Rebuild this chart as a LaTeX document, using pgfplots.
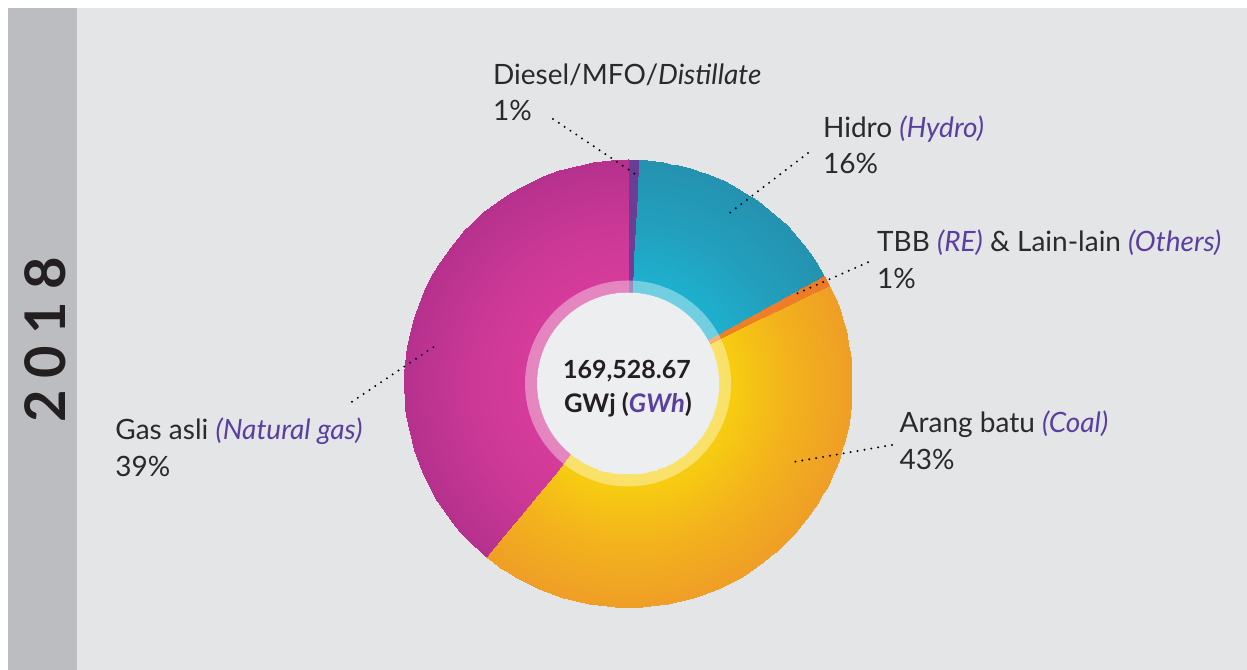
\documentclass[border=0pt]{standalone}
\usepackage{pgfplots}
\pgfplotsset{compat=1.18}
\usepackage{pgfplotstable}
\usepackage{fontspec}
\setmainfont{Lato}
\definecolor{panel}{HTML}{E4E5E7}
\definecolor{sidebar}{HTML}{BCBDC1}
\definecolor{txt}{HTML}{2B2A2B}
\definecolor{purp}{HTML}{5B3FA0}
\definecolor{dark}{HTML}{231F20}
\definecolor{centerc}{HTML}{ECEEF0}

% share of generation (%)
\pgfplotstableread{
source share
Diesel 0.8
Hydro 16.2
TBB 0.8
Coal 43.1
Gas 39.1
}\sharetable
\pgfplotstablegetelem{0}{share}\of\sharetable \let\sA\pgfplotsretval
\pgfplotstablegetelem{1}{share}\of\sharetable \let\sB\pgfplotsretval
\pgfplotstablegetelem{2}{share}\of\sharetable \let\sC\pgfplotsretval
\pgfplotstablegetelem{3}{share}\of\sharetable \let\sD\pgfplotsretval
\pgfplotstablegetelem{4}{share}\of\sharetable \let\sE\pgfplotsretval
\pgfmathsetmacro\aA{90}
\pgfmathsetmacro\aB{\aA-3.6*\sA}
\pgfmathsetmacro\aC{\aB-3.6*\sB}
\pgfmathsetmacro\aD{\aC-3.6*\sC}
\pgfmathsetmacro\aE{\aD-3.6*\sD}
\pgfmathsetmacro\aF{\aE-3.6*\sE}

\begin{document}
\begin{tikzpicture}
\begin{axis}[
  width=623.5pt, height=335pt, scale only axis,
  xmin=0, xmax=1247, ymin=0, ymax=670,
  hide axis, view={0}{90}, clip=false,
  point meta min=0, point meta max=1,
  colormap={gasmap}{rgb255=(216,60,155) rgb255=(203,56,150) rgb255=(181,49,141)},
  colormap={hydmap}{rgb255=(28,180,210) rgb255=(34,160,190) rgb255=(36,146,176)},
  colormap={coalmap}{rgb255=(247,210,14) rgb255=(243,180,28) rgb255=(239,158,38)},
  colormap={dieselmap}{rgb255=(110,63,153) rgb255=(106,60,150)},
  colormap={tbbmap}{rgb255=(240,128,42) rgb255=(238,122,40)},
  slice/.style={surf, shader=interp, domain=91:224,
    point meta={(sqrt((x-628)^2+(y-286.5)^2)-91)/133}},
]
% backgrounds
\fill[white] (axis cs:0,0) rectangle (axis cs:1247,670);
\fill[panel] (axis cs:8,0) rectangle (axis cs:1247,662);
\fill[sidebar] (axis cs:8,0) rectangle (axis cs:77,662);
\node[rotate=90, text=dark, font=\fontsize{28}{28}\selectfont\bfseries] at (axis cs:45,330) {2\kern6pt0\kern6pt1\kern6pt8};

% slices
\addplot3[slice, colormap name=dieselmap, y domain=\aB:\aA, samples=3, samples y=3] ({628+x*cos(y)}, {286.5+x*sin(y)}, 0);
\addplot3[slice, colormap name=hydmap, y domain=\aC:\aB, samples=5, samples y=30] ({628+x*cos(y)}, {286.5+x*sin(y)}, 0);
\addplot3[slice, colormap name=tbbmap, y domain=\aD:\aC, samples=3, samples y=3] ({628+x*cos(y)}, {286.5+x*sin(y)}, 0);
\addplot3[slice, colormap name=coalmap, y domain=\aE:\aD, samples=6, samples y=70] ({628+x*cos(y)}, {286.5+x*sin(y)}, 0);
\addplot3[slice, colormap name=gasmap, y domain=\aF:\aE, samples=6, samples y=64] ({628+x*cos(y)}, {286.5+x*sin(y)}, 0);

% inner translucent ring and centre disc
\fill[white, fill opacity=0.38, even odd rule] (axis cs:628,286.5) circle[radius=51.5pt] (axis cs:628,286.5) circle[radius=45.5pt];
\fill[centerc] (axis cs:628,286.5) circle[radius=45.5pt];
\node[anchor=base, text=dark, font=\fontsize{12.5}{12}\selectfont\bfseries] at (axis cs:627,291.7) {169,528.67};
\node[anchor=base, text=dark, font=\fontsize{12.8}{12}\selectfont\bfseries] at (axis cs:628,257.3) {GWj (\textcolor{purp}{\itshape GWh})};

% leader lines
\tikzset{lead/.style={black, line width=1.1pt, line cap=round, dash pattern=on 0pt off 3.5pt}}
\draw[lead] (axis cs:553,551) -- (axis cs:638,494);
\draw[lead] (axis cs:808,517) -- (axis cs:727,455);
\draw[lead] (axis cs:868,407.7) -- (axis cs:796,376);
\draw[lead] (axis cs:892,225) -- (axis cs:792,207.7);
\draw[lead] (axis cs:352,268.3) -- (axis cs:436,324.7);

% labels
\tikzset{lab/.style={anchor=base west, inner sep=0pt, text=txt, font=\fontsize{14}{14}\selectfont}}
\node[lab] at (axis cs:492.7,585.7) {Diesel/MFO/\textit{Distillate}};
\node[lab] at (axis cs:492.7,549) {1\%};
\node[lab] at (axis cs:822.7,532.7) {Hidro \textcolor{purp}{\textit{(Hydro)}}};
\node[lab] at (axis cs:822.7,496.7) {16\%};
\node[lab] at (axis cs:876.7,418.3) {TBB \textcolor{purp}{\textit{(RE)}} \& Lain-lain \textcolor{purp}{\textit{(Others)}}};
\node[lab] at (axis cs:876.7,381.7) {1\%};
\node[lab] at (axis cs:899.3,237.3) {Arang batu \textcolor{purp}{\textit{(Coal)}}};
\node[lab] at (axis cs:899.3,200.7) {43\%};
\node[lab] at (axis cs:115,230) {Gas asli \textcolor{purp}{\textit{(Natural gas)}}};
\node[lab] at (axis cs:115,193.3) {39\%};
\end{axis}
\end{tikzpicture}
\end{document}
